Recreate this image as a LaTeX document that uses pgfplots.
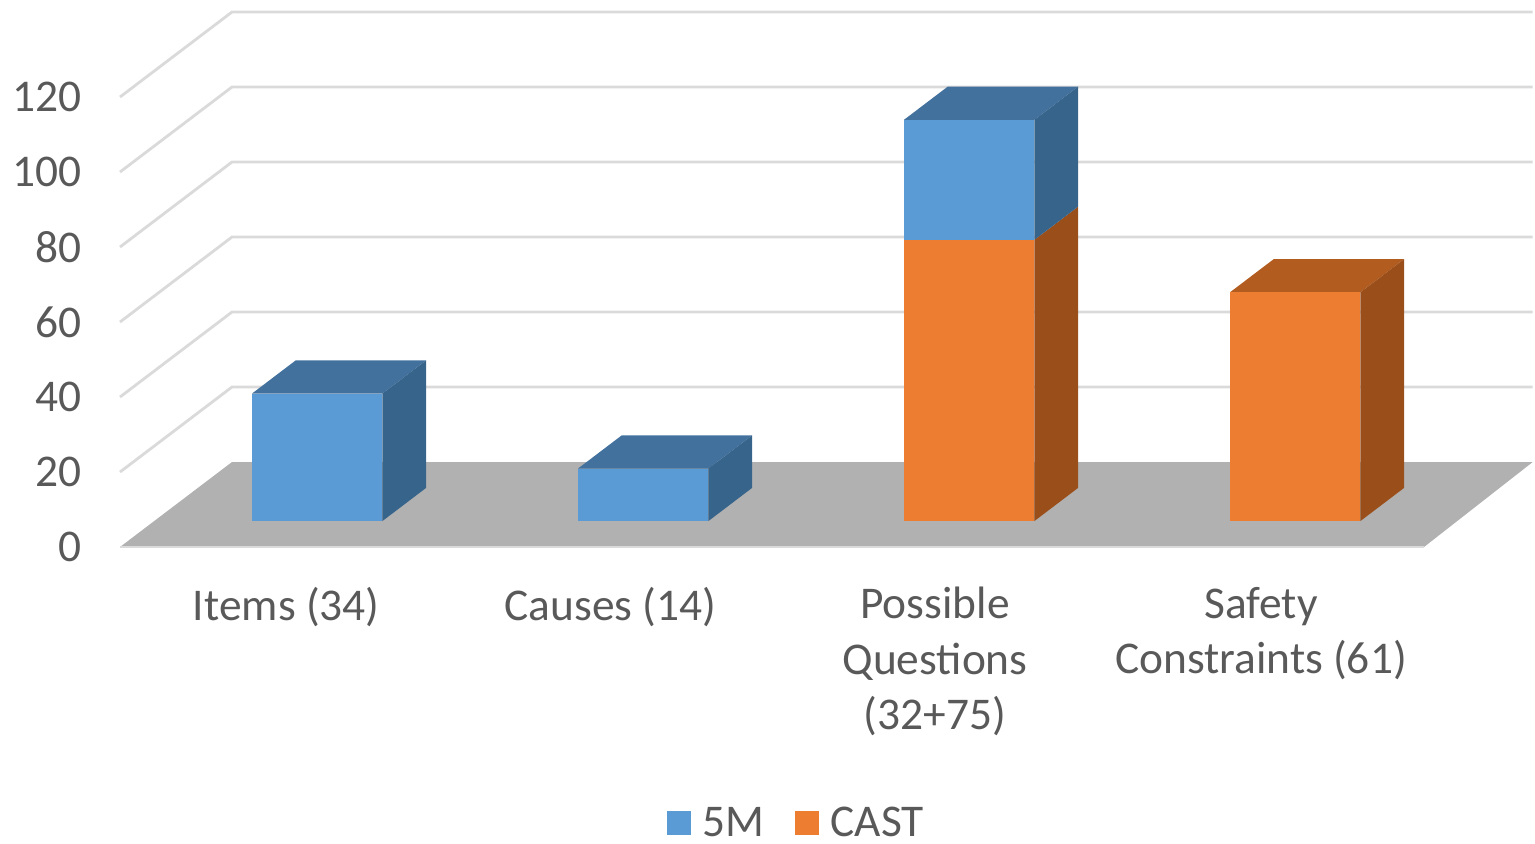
\documentclass[border=0pt]{standalone}
\usepackage{fontspec}
\setmainfont{Carlito}
\usepackage{pgfplots}
\pgfplotsset{compat=1.18}
\definecolor{txt}{HTML}{595959}
\definecolor{gridc}{HTML}{DADADA}
\definecolor{floorc}{HTML}{B1B1B1}
\definecolor{blueF}{HTML}{5B9BD5}
\definecolor{blueT}{HTML}{42719E}
\definecolor{blueS}{HTML}{36648B}
\definecolor{orgF}{HTML}{ED7D31}
\definecolor{orgT}{HTML}{B35C1F}
\definecolor{orgS}{HTML}{9A4F1A}
\pgfplotsset{
  wall/.style={draw=gridc,line width=1.4pt,mark=none,forget plot},
  face/.style={fill=#1,draw=none,mark=none,forget plot},
}
\begin{document}
\begin{tikzpicture}
\begin{axis}[
  x={(163pt,0pt)}, y={(56pt,42.5pt)}, z={(0pt,1.875pt)},
  xmin=0, xmax=3.99, ymin=0, ymax=1, zmin=0, zmax=120,
  clip=false,
  axis line style={draw=none},
  tick style={draw=none},
  xtick={0.51,1.505,2.5,3.5},
  xticklabels={{Items (34)},{Causes (14)},{Possible\\Questions\\(32+75)},{Safety\\Constraints (61)}},
  ytick=\empty,
  ztick={0,20,40,60,80,100,120},
  /pgf/number format/assume math mode=true,
  tick label style={text=txt,font=\fontsize{22.7}{27.75}\selectfont},
  xticklabel style={align=center,anchor=north,yshift=-16.5pt},
  zticklabel style={anchor=east,xshift=-15.5pt},
  legend style={
    at={(axis cs:2.078,0,-73.6)},anchor=center,draw=none,fill=none,
    font=\fontsize{22.7}{27.75}\selectfont,text=txt,
    legend columns=2,inner sep=0pt,
    /tikz/every odd column/.append style={column sep=4pt},
    /tikz/every even column/.append style={column sep=13pt},
  },
  legend image code/.code={\fill[#1,draw=none] (0pt,-6pt) rectangle (12pt,6pt);},
]
% floor of the chart
\addplot3[face=floorc] coordinates {(0,0,0)(4,0,0)(3.99,1,0)(0,1,0)} -- cycle;
\addplot3[wall,line width=0.8pt] coordinates {(0,0,0)(4,0,0)};
% gridlines on the side and back walls
\addplot3[wall] coordinates {(0,0,20)(0,1,20)(3.99,1,20)};
\addplot3[wall] coordinates {(0,0,40)(0,1,40)(3.99,1,40)};
\addplot3[wall] coordinates {(0,0,60)(0,1,60)(3.99,1,60)};
\addplot3[wall] coordinates {(0,0,80)(0,1,80)(3.99,1,80)};
\addplot3[wall] coordinates {(0,0,100)(0,1,100)(3.99,1,100)};
\addplot3[wall] coordinates {(0,0,120)(0,1,120)(3.99,1,120)};
% Items: 5M = 34
\addplot3[face=blueT] coordinates {(0.3,0.305,34)(0.7,0.305,34)(0.7,0.695,34)(0.3,0.695,34)} -- cycle;
\addplot3[face=blueS] coordinates {(0.7,0.305,0)(0.7,0.695,0)(0.7,0.695,34)(0.7,0.305,34)} -- cycle;
\addplot3[face=blueF] coordinates {(0.3,0.305,0)(0.7,0.305,0)(0.7,0.305,34)(0.3,0.305,34)} -- cycle;
% Causes: 5M = 14
\addplot3[face=blueT] coordinates {(1.3,0.305,14)(1.7,0.305,14)(1.7,0.695,14)(1.3,0.695,14)} -- cycle;
\addplot3[face=blueS] coordinates {(1.7,0.305,0)(1.7,0.695,0)(1.7,0.695,14)(1.7,0.305,14)} -- cycle;
\addplot3[face=blueF] coordinates {(1.3,0.305,0)(1.7,0.305,0)(1.7,0.305,14)(1.3,0.305,14)} -- cycle;
% Possible Questions: CAST = 75 with 5M = 32 stacked on top
\addplot3[face=orgS] coordinates {(2.7,0.305,0)(2.7,0.695,0)(2.7,0.695,75)(2.7,0.305,75)} -- cycle;
\addplot3[face=orgF] coordinates {(2.3,0.305,0)(2.7,0.305,0)(2.7,0.305,75)(2.3,0.305,75)} -- cycle;
\addplot3[face=blueT] coordinates {(2.3,0.305,107)(2.7,0.305,107)(2.7,0.695,107)(2.3,0.695,107)} -- cycle;
\addplot3[face=blueS] coordinates {(2.7,0.305,75)(2.7,0.695,75)(2.7,0.695,107)(2.7,0.305,107)} -- cycle;
\addplot3[face=blueF] coordinates {(2.3,0.305,75)(2.7,0.305,75)(2.7,0.305,107)(2.3,0.305,107)} -- cycle;
% Safety Constraints: CAST = 61
\addplot3[face=orgT] coordinates {(3.3,0.305,61)(3.7,0.305,61)(3.7,0.695,61)(3.3,0.695,61)} -- cycle;
\addplot3[face=orgS] coordinates {(3.7,0.305,0)(3.7,0.695,0)(3.7,0.695,61)(3.7,0.305,61)} -- cycle;
\addplot3[face=orgF] coordinates {(3.3,0.305,0)(3.7,0.305,0)(3.7,0.305,61)(3.3,0.305,61)} -- cycle;
% legend swatches
\addlegendimage{fill=blueF}
\addlegendentry{5M}
\addlegendimage{fill=orgF}
\addlegendentry{CAST}
% page extent
\path (axis cs:-0.3681,0,-78.67) rectangle (axis cs:4.3405,0,145.87);
\end{axis}
\end{tikzpicture}
\end{document}
